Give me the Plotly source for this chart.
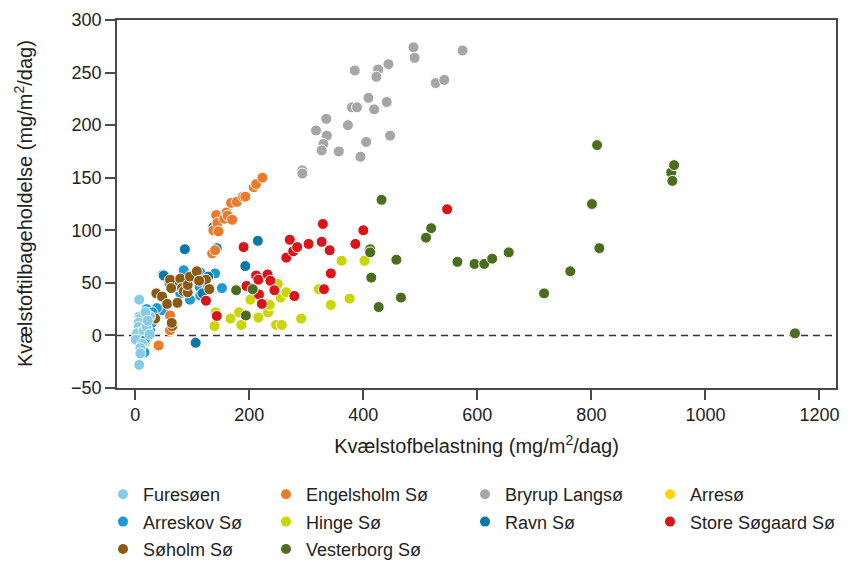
import plotly.graph_objects as go

# Nitrogen loading (x) and nitrogen retention (y), mg/m2/day, per lake
furesoen_x = [7, 7, 9, 6, 6, 3, 1, 12, 9, 9, 7, 15, 20, 25, 26, 18, 22]
furesoen_y = [34, 18, 16, 12, 8, 2, -4, -8, -12, -17, -28, 5, 8, 1, 18, 22, 14]

engelsholm_x = [41, 61, 66, 61, 135, 140, 137, 142, 144, 146, 156, 160, 162, 168, 170, 178, 189, 193, 208, 212, 223]
engelsholm_y = [-9.5, 19, 8, 5, 78, 81, 100, 114.5, 107, 99, 111, 117, 114, 126, 110, 127, 132, 132, 141, 144, 150]

bryrup_x = [488, 490, 574, 385, 426, 444, 423, 527, 542, 409, 441, 380, 389, 419, 335, 317, 373, 336,
            330, 327, 405, 447, 357, 395, 293, 293]
bryrup_y = [274, 264, 271, 252, 253, 258, 246, 240, 243, 226, 222, 217, 217, 215, 206, 195, 200, 190,
            182, 176, 184, 190, 175, 170, 157, 154]

arresoe_x = [17, 12, 20]
arresoe_y = [-7, 3, 10]

arreskov_x = [16, 18, 26, 29, 23, 47, 38, 49, 79, 85, 96, 108, 113, 114, 114, 127, 140, 152, 20, 30, 60]
arreskov_y = [-16, -3, 5, 12, 21, 24, 26, 58, 40, 62, 34, 53, 46, 38, 60, 45, 59, 45, 25, 22, 50]

hinge_x = [139, 141, 167, 182, 186, 202, 216, 230, 233, 236, 247, 250, 255, 257, 265, 291, 322, 343, 362, 376, 402]
hinge_y = [9, 22, 16, 22, 10, 34, 17, 30, 22, 29, 10, 49, 36, 10, 41, 16, 44, 29, 71, 35, 71]

ravn_x = [50, 87, 106, 137, 143, 193, 215, 118, 128, 70]
ravn_y = [57, 82, -7, 103, 83, 66, 90, 40, 56, 47]

soegaard_x = [124, 143, 190, 195, 212, 216, 217, 222, 232, 237, 244, 265, 271, 277, 279, 284, 304, 327,
              329, 331, 341, 343, 386, 400, 547]
soegaard_y = [33, 18.5, 84, 47, 57, 53, 39, 30, 58, 52, 43, 74, 91, 80, 37.5, 84, 87, 89,
              106, 44, 81, 59, 87, 100, 120]

soeholm_x = [35, 37, 47, 56, 61, 63, 65, 64, 74, 79, 82, 85, 92, 92, 96, 108, 124, 130, 112]
soeholm_y = [16, 40, 37, 30, 53, 45, 9, 12, 31, 54, 45, 42, 41, 48, 56, 61, 53, 44, 52]

vesterborg_x = [177, 206, 194, 432, 412, 412, 458, 414, 466, 427, 510, 519, 565, 595, 612, 626, 655,
                717, 763, 801, 810, 814, 940, 942, 945, 1157]
vesterborg_y = [43, 44, 19, 129, 82, 79, 72, 55, 36, 27, 93, 102, 70, 68, 68, 73, 79,
                40, 61, 125, 181, 83, 155, 147, 162, 2]

lakes = {
    "Furesøen": (furesoen_x, furesoen_y, "#86cbe8"),
    "Engelsholm Sø": (engelsholm_x, engelsholm_y, "#ec7a2c"),
    "Bryrup Langsø": (bryrup_x, bryrup_y, "#a6a6a6"),
    "Arresø": (arresoe_x, arresoe_y, "#ffd500"),
    "Arreskov Sø": (arreskov_x, arreskov_y, "#1b9bd2"),
    "Hinge Sø": (hinge_x, hinge_y, "#cbd500"),
    "Ravn Sø": (ravn_x, ravn_y, "#0c78a8"),
    "Store Søgaard Sø": (soegaard_x, soegaard_y, "#d9141b"),
    "Søholm Sø": (soeholm_x, soeholm_y, "#8c5a12"),
    "Vesterborg Sø": (vesterborg_x, vesterborg_y, "#4b6e1e"),
}

# drawing order (later on top)
draw_order = ["Arresø", "Bryrup Langsø", "Hinge Sø", "Arreskov Sø", "Ravn Sø", "Engelsholm Sø",
              "Store Søgaard Sø", "Vesterborg Sø", "Søholm Sø", "Furesøen"]

# legend columns
legend_cols = [
    ["Furesøen", "Arreskov Sø", "Søholm Sø"],
    ["Engelsholm Sø", "Hinge Sø", "Vesterborg Sø"],
    ["Bryrup Langsø", "Ravn Sø"],
    ["Arresø", "Store Søgaard Sø"],
]
legend_left_px = [103, 266, 465, 650]

FONT = "Liberation Sans, Arial, sans-serif"
TXT = "#222222"
AX = "#4a4a4a"

fig = go.Figure()

for name in draw_order:
    xs, ys, col = lakes[name]
    fig.add_trace(go.Scatter(
        x=xs, y=ys, mode="markers", name=name, legendgroup=name, showlegend=False,
        marker=dict(size=11, color=col, line=dict(color="white", width=1)),
        hoverinfo="x+y+name",
    ))

for ci, names in enumerate(legend_cols):
    lg = "legend" if ci == 0 else f"legend{ci + 1}"
    for ri, name in enumerate(names):
        col = lakes[name][2]
        fig.add_trace(go.Scatter(
            x=[None], y=[None], mode="markers", name=name, legendgroup=name,
            legend=lg, legendrank=ri + 1,
            marker=dict(size=10, color=col),
        ))

legend_common = dict(
    orientation="v", xref="container", yref="container", xanchor="left", yanchor="top",
    y=1 - 476 / 562, font=dict(family=FONT, size=18, color=TXT),
    bgcolor="rgba(0,0,0,0)", tracegroupgap=1, itemclick=False, itemdoubleclick=False,
)
layout_legends = {}
for ci in range(4):
    key = "legend" if ci == 0 else f"legend{ci + 1}"
    layout_legends[key] = dict(legend_common, x=legend_left_px[ci] / 850)

# zero reference line
fig.add_shape(type="line", xref="paper", yref="y", x0=0, x1=1, y0=0, y1=0,
              line=dict(color="#333333", width=1.5, dash="7px,5px"), layer="below")

# vertical axis title, set beside the tick labels
fig.add_annotation(
    text="Kvælstoftilbageholdelse (mg/m<sup>2</sup>/dag)",
    xref="paper", yref="paper", x=(23 - 117) / 719, y=0.5,
    xanchor="center", yanchor="middle", textangle=-90, showarrow=False,
    font=dict(family=FONT, size=20, color=TXT),
)

fig.update_layout(
    width=850, height=562,
    margin=dict(l=117, r=14, t=20, b=174, autoexpand=False),
    paper_bgcolor="white", plot_bgcolor="white",
    font=dict(family=FONT, color=TXT),
    showlegend=True,
    **layout_legends,
)

fig.update_xaxes(
    range=[-32, 1229], tickvals=[0, 200, 400, 600, 800, 1000, 1200],
    showgrid=False, zeroline=False,
    showline=True, linecolor=AX, linewidth=1.5, mirror=True,
    ticks="outside", ticklen=10, tickwidth=1.5, tickcolor=AX,
    tickfont=dict(family=FONT, size=18, color=TXT),
    title=dict(text="Kvælstofbelastning (mg/m<sup>2</sup>/dag)",
               font=dict(family=FONT, size=20, color=TXT)),
)
fig.update_yaxes(
    range=[-50, 300], tickvals=[-50, 0, 50, 100, 150, 200, 250, 300],
    showgrid=False, zeroline=False,
    showline=True, linecolor=AX, linewidth=1.5, mirror=True,
    ticks="outside", ticklen=10, tickwidth=1.5, tickcolor=AX,
    tickfont=dict(family=FONT, size=18, color=TXT),
)

fig.write_html("out.html")
